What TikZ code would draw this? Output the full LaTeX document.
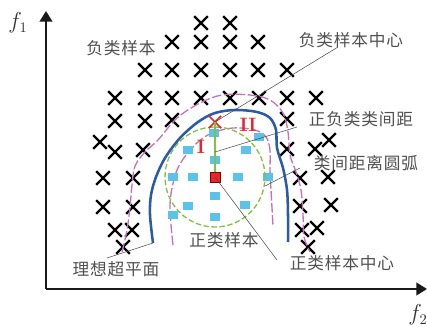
\documentclass[tikz,border=0pt]{standalone}
\usepackage{fontspec}
\newfontfamily\cjk[LetterSpace=5]{Noto Sans CJK SC}
\usetikzlibrary{shapes.misc,arrows.meta}
\definecolor{posb}{HTML}{5BC3EA}
\definecolor{redc}{HTML}{E8262A}
\definecolor{bluel}{HTML}{2A5AA8}
\definecolor{pinkl}{HTML}{C673B6}
\definecolor{greenl}{HTML}{80C242}
\definecolor{txt}{HTML}{505050}
\begin{document}
\begin{tikzpicture}[x=0.75pt,y=-0.75pt,
  negx/.style={draw=black, cross out, line width=1.8pt, minimum size=8.5pt, inner sep=0pt},
  posx/.style={fill=posb, rectangle, minimum width=7.5pt, minimum height=6.5pt, inner sep=0pt},
  lab/.style={text=txt, font=\cjk\fontsize{12.5}{14}\selectfont, inner sep=0pt},
  lead/.style={draw=black!70, line width=0.4pt},
  axis/.style={draw=black!90, line width=1.5pt, -{Triangle[length=8pt,width=9.5pt]}},
  pinkdash/.style={draw=pinkl, line width=1pt, dash pattern=on 7pt off 2pt},
  flab/.style={text=black!80, font=\fontsize{16}{16}\selectfont, inner sep=0pt},
  roman/.style={text=redc, font=\fontsize{14.5}{14.5}\selectfont\bfseries, inner sep=0pt}]
\useasboundingbox (0,0) rectangle (427,327);

% axes
\coordinate (O) at (46,289);
\coordinate (ytop) at (46,11);
\coordinate (xend) at (427,289);
\draw[axis] (O) -- (ytop);
\draw[axis] (O) -- (xend);
\node[flab] (f1) at (18,23) {$f_1$};
\node[flab] (f2) at (418,315) {$f_2$};

% negative samples
\foreach \p [count=\i] in {(201,23),(230,23),
  (172,42),(201,42),(230,42),(258,42),
  (145,70),(172,70),(201,70),(230,70),(258,70),(287,70),
  (115,98),(145,98),(172,98),(201,98),(230,98),(259,98),(287,98),(316,98),
  (115,121),(145,121),(172,120),(287,119),
  (100,142),(115,152),(143,150),(287,149),(315,149),(329,140),
  (103,178),(133,178),(300,178),(328,177),
  (103,207),(133,207),(300,206),(331,205),
  (115,230),(132,230),(302,230),(317,228),
  (123,247),(308,247)}
  \node[negx] (n\i) at \p {};

% curves
\draw[pinkdash] plot[smooth, tension=0.55] coordinates {(122,252) (127,230) (130,207) (132,185) (135,166) (145,152) (158,140) (177,118) (200,103) (222,95) (250,95) (270,100) (283,113) (288,132) (290,155) (296,172) (301,190) (303,215) (304,237) (310,252)};
\draw[pinkdash] plot[smooth, tension=0.55] coordinates {(173,245) (171,225) (170,205) (172,188) (177,170) (186,155) (198,142) (212,133) (233,128) (255,130) (266,137) (270,150) (270,170) (271,190) (272,208) (273,226)};
\draw[bluel, line width=1.9pt] plot[smooth, tension=0.55] coordinates {(153,243) (150,215) (151,195) (156,177) (165,158) (180,138) (198,122) (215,113) (235,110) (257,112) (270,118) (276,130) (277,148) (283,168) (287,190) (288,215) (288,242)};
\coordinate (bend) at (153,243);

% positive samples
\foreach \p [count=\i] in {(214,133),(259,137),(188,150),(246,150),(215,160),
  (173,177),(193,177),(238,177),(268,177),(215,196),(188,206),(245,205),(173,215),(215,217)}
  \node[posx] (p\i) at \p {};

% margin circle
\coordinate (cc) at (215,177);
\draw[greenl, line width=1pt, dash pattern=on 4pt off 2pt] (cc) circle [radius=37.5pt];

% centres
\node[draw=redc, cross out, line width=1.3pt, minimum size=8pt, inner sep=0pt] (rx) at (215,122) {};
\node[fill=redc, draw=red!50!black, line width=0.4pt, minimum size=7.5pt, inner sep=0pt] (rsq) at (215,177) {};
\draw[greenl, line width=1pt] (rsq.north) -- (rx.center);

\node[roman] (r1) at (201,147) {I};
\node[roman] (r2) at (248,125) {II};

% labels
\node[lab] (l1) at (121,48) {负类样本};
\node[lab] (l2) at (351,40) {负类样本中心};
\node[lab] (l3) at (361,119) {正负类类间距};
\node[lab] (l4) at (366,163) {类间距离圆弧};
\node[lab] (l5) at (224,240) {正类样本};
\node[lab] (l6) at (342,263) {正类样本中心};
\node[lab] (l7) at (116,269) {理想超平面};

% leader lines
\coordinate (a2) at (338,47);
\coordinate (a3) at (297,127);
\coordinate (m3) at (215,152);
\coordinate (a4) at (300,168);
\coordinate (m4) at (265,186);
\coordinate (a6) at (277,260);
\coordinate (a7) at (107,258);
\draw[lead] (a2) -- (rx.center);
\draw[lead] (a3) -- (m3);
\draw[lead] (a4) -- (m4);
\draw[lead] (rsq.center) -- (a6);
\draw[lead] (a7) -- (bend);
\end{tikzpicture}
\end{document}
